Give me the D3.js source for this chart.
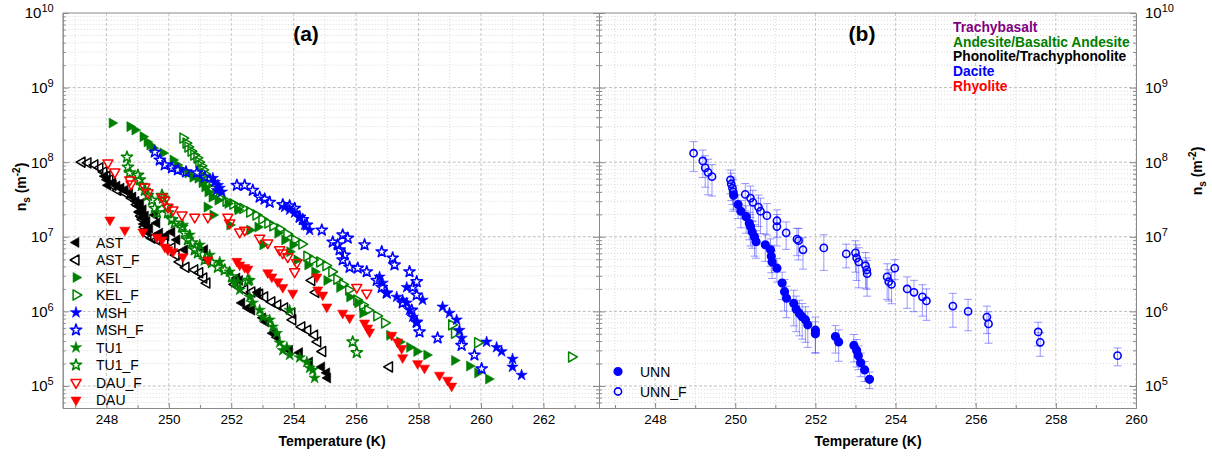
<!DOCTYPE html>
<html>
<head>
<meta charset="utf-8">
<script src="https://cdn.jsdelivr.net/npm/d3@7"></script>
<style>
    body { margin: 0; background: #fff; }
    text { font-family: "Liberation Sans", Arial, sans-serif; }
</style>
</head>
<body>
<svg id="chart" width="1212" height="459"></svg>
<script>
'use strict';

// Data: [temperature (K), ns (m^-2)]
const AST = [[247.95,6.5e7],[248.02,5.8e7],[248.05,4.9e7],[248.21,5.3e7],[248.34,4.8e7],[248.47,4.5e7],[248.59,4.2e7],[248.75,3.9e7],[248.85,3.4e7],[248.95,3.0e7],[249.01,2.6e7],[249.07,2.15e7],[249.14,1.8e7],[249.20,1.48e7],[249.27,1.23e7],[249.10,2.8e7],[249.18,2.3e7],[249.25,1.9e7],[249.30,1.6e7],[249.39,1.31e7],[249.55,1.96e7],[249.62,1.53e7],[249.71,1.12e7],[249.91,1.03e7],[250.10,1.16e7],[250.26,9.1e6],[250.51,6.7e6],[251.15,6.7e6],[251.25,4.9e6],[252.18,2.8e6],[252.27,2.6e6],[252.34,1.3e6],[252.53,1.11e6],[252.66,1.04e6],[252.85,1.8e6],[253.01,8.2e5],[253.11,7.2e5],[253.33,5.1e5],[253.46,4.5e5],[253.87,3.0e5],[254.19,2.8e5],[254.51,2.1e5],[254.90,1.8e5],[255.06,1.5e5],[255.09,1.28e5]];
const AST_F = [[247.22,1.0e8],[247.41,9.8e7],[247.63,9.2e7],[247.79,8.4e7],[247.92,7.4e7],[248.02,6.5e7],[248.11,5.8e7],[248.21,4.9e7],[248.37,4.2e7],[248.59,3.9e7],[248.82,3.3e7],[248.98,2.7e7],[249.07,2.15e7],[249.17,1.7e7],[249.23,1.35e7],[249.12,1.9e7],[249.28,1.2e7],[249.33,1.06e7],[249.46,9.6e6],[249.62,9.1e6],[249.87,8.3e6],[250.10,7.1e6],[250.23,5.7e6],[250.35,4.6e6],[250.55,3.9e6],[250.83,3.6e6],[250.99,3.3e6],[251.12,2.8e6],[251.22,2.4e6],[252.11,2.3e6],[252.43,1.94e6],[252.66,1.82e6],[252.91,1.7e6],[253.07,1.56e6],[253.30,1.34e6],[253.49,1.22e6],[253.71,1.11e6],[253.94,9.5e5],[253.97,7.7e5],[254.26,6.2e5],[254.45,5.6e5],[254.67,4.8e5],[254.77,3.9e5],[254.93,2.9e5],[254.58,2.6e6],[254.71,1.8e6],[257.07,1.8e5]];
const KEL = [[248.18,3.35e8],[248.75,3.0e8],[248.91,2.7e8],[249.17,2.2e8],[249.30,1.87e8],[249.39,1.7e8],[249.49,1.55e8],[249.81,1.33e8],[250.13,1.07e8],[250.26,9.2e7],[250.42,7.9e7],[250.61,7.2e7],[250.77,6.3e7],[250.93,6.1e7],[251.06,5.3e7],[251.15,4.65e7],[251.25,4.0e7],[251.38,3.4e7],[251.57,3.1e7],[251.89,2.8e7],[252.21,2.3e7],[251.22,2.5e7],[251.41,1.96e7],[251.95,1.44e7],[252.59,1.23e7],[252.85,1.35e7],[253.01,7.8e6],[253.49,1.12e7],[253.71,9.1e6],[253.87,6.3e6],[253.97,7.8e6],[254.10,4.9e6],[254.45,4.2e6],[254.67,3.4e6],[255.06,2.6e6],[255.47,2.1e6],[255.79,1.56e6],[256.05,1.3e6],[256.21,9.5e5],[257.07,4.8e5],[257.39,3.9e5],[257.71,3.3e5],[257.94,2.9e5],[258.26,2.6e5],[259.15,2.2e5],[259.63,1.85e5],[259.89,1.5e5],[260.24,1.24e5]];
const KEL_F = [[250.45,2.1e8],[250.55,1.8e8],[250.61,1.6e8],[250.71,1.41e8],[250.80,1.25e8],[250.90,1.14e8],[250.96,1.0e8],[251.03,8.9e7],[251.09,7.9e7],[251.15,6.9e7],[251.22,6.0e7],[251.28,5.1e7],[251.38,4.4e7],[251.51,3.7e7],[251.63,3.3e7],[251.83,3.0e7],[252.05,2.75e7],[252.21,2.5e7],[252.37,2.4e7],[252.59,2.15e7],[252.79,1.96e7],[252.98,1.73e7],[253.17,1.53e7],[253.33,1.4e7],[253.55,1.27e7],[253.78,1.09e7],[254.03,9.1e6],[254.26,8.0e6],[254.42,5.5e6],[254.61,4.9e6],[254.83,4.6e6],[255.03,4.1e6],[255.22,3.4e6],[255.38,2.7e6],[255.57,2.3e6],[255.76,1.94e6],[256.02,1.42e6],[256.21,1.22e6],[256.37,1.04e6],[256.66,8.7e5],[256.91,7.0e5],[259.06,6.6e5],[259.15,5.1e5],[259.89,3.8e5],[262.90,2.45e5]];
const MSH = [[251.41,6.1e7],[251.47,5.4e7],[251.57,4.9e7],[251.63,4.5e7],[251.54,4.2e7],[251.70,4.0e7],[253.71,2.5e7],[253.87,2.3e7],[254.03,2.1e7],[254.19,1.8e7],[254.35,1.44e7],[254.51,1.23e7],[256.75,2.9e6],[256.85,2.4e6],[256.98,1.76e6],[257.30,1.56e6],[257.49,1.42e6],[257.62,1.3e6],[257.71,1.04e6],[257.81,8.4e5],[257.94,7.0e5],[257.62,2.1e6],[258.13,1.42e6],[258.77,1.15e6],[258.99,9.5e5],[259.22,7.7e5],[259.31,5.6e5],[259.38,4.4e5],[260.18,3.9e5],[260.50,3.3e5],[260.66,2.9e5],[261.01,2.3e5],[261.01,1.8e5],[261.30,1.4e5]];
const MSH_F = [[249.55,1.37e8],[249.71,1.07e8],[249.87,9.2e7],[250.10,8.4e7],[250.29,7.9e7],[250.55,7.4e7],[250.90,7.2e7],[251.15,6.3e7],[252.18,4.9e7],[252.43,4.9e7],[252.69,4.2e7],[252.91,3.4e7],[253.07,3.2e7],[253.23,2.9e7],[253.65,2.7e7],[253.87,2.6e7],[254.03,2.4e7],[254.19,1.84e7],[254.29,1.7e7],[254.42,1.44e7],[254.90,1.23e7],[255.25,8.5e6],[255.41,7.8e6],[255.47,6.7e6],[255.57,1.06e7],[255.73,9.6e6],[255.63,5.7e6],[255.57,4.9e6],[255.79,3.9e6],[256.05,3.8e6],[256.27,7.8e6],[256.34,3.4e6],[256.82,6.3e6],[257.17,5.2e6],[257.23,4.2e6],[256.66,2.6e6],[256.82,2.1e6],[256.98,1.76e6],[257.49,1.3e6],[257.71,3.4e6],[257.94,2.5e6],[257.81,2.1e6],[257.94,1.66e6],[257.78,1.04e6],[257.94,7.2e5],[258.03,5.3e5],[258.61,4.4e5],[259.38,3.5e5],[259.79,2.6e5],[260.02,1.7e5]];
const TU1 = [[250.45,1.44e7],[250.67,1.06e7],[250.99,7.8e6],[251.31,5.7e6],[251.63,4.6e6],[251.95,3.4e6],[252.11,2.4e6],[252.27,1.94e6],[252.59,2.6e6],[252.59,1.56e6],[252.69,1.3e6],[252.91,1.04e6],[253.01,8.4e5],[253.23,7.7e5],[253.33,6.2e5],[253.46,5.1e5],[253.55,3.8e5],[253.65,3.0e5],[253.78,3.3e5],[253.87,2.6e5],[253.87,1.04e6],[254.19,2.4e5],[254.42,2.1e5],[254.61,1.64e5],[254.67,1.28e5],[254.51,1.74e5]];
const TU1_F = [[248.66,1.17e8],[248.69,8.6e7],[248.75,7.2e7],[249.01,6.7e7],[249.07,5.8e7],[249.14,4.9e7],[249.23,4.2e7],[249.33,3.6e7],[249.46,3.1e7],[249.55,2.4e7],[249.62,2.1e7],[249.78,3.6e7],[249.81,3.3e7],[249.94,2.5e7],[249.97,2.1e7],[250.10,1.7e7],[250.19,1.53e7],[250.42,1.35e7],[250.51,1.12e7],[250.61,9.1e6],[250.74,8.3e6],[250.83,6.7e6],[250.93,6.1e6],[251.15,4.9e6],[251.38,4.5e6],[251.57,3.9e6],[251.79,3.6e6],[252.02,2.9e6],[252.21,2.4e6],[252.53,2.6e6],[255.89,3.9e5],[256.02,2.8e5]];
const DAU_F = [[248.05,9.8e7],[248.27,7.4e7],[248.75,5.8e7],[248.79,5.1e7],[249.23,4.65e7],[249.33,3.9e7],[249.78,3.4e7],[249.87,3.1e7],[249.97,2.5e7],[250.13,2.3e7],[250.42,1.96e7],[250.83,1.84e7],[251.25,1.84e7],[251.89,1.84e7],[251.95,1.53e7],[252.27,1.16e7],[252.43,1.23e7],[252.91,9.6e6],[253.17,8.3e6],[253.55,6.7e6],[253.65,6.1e6],[253.81,5.4e6],[254.03,3.4e6],[254.10,4.5e6],[256.02,2.1e6],[256.34,1.76e6]];
const DAU = [[248.11,1.68e7],[248.59,1.23e7],[249.17,1.16e7],[249.62,9.9e6],[249.78,9.1e6],[249.87,7.3e6],[249.97,6.7e6],[250.13,6.3e6],[250.45,5.4e6],[251.25,4.9e6],[252.18,4.7e6],[252.27,4.2e6],[252.43,3.9e6],[252.53,3.7e6],[253.17,3.3e6],[253.30,2.9e6],[253.49,2.5e6],[253.65,2.1e6],[253.97,1.76e6],[254.74,2.9e6],[254.77,1.94e6],[254.93,1.66e6],[255.06,1.15e6],[255.57,9.5e5],[255.79,8.2e5],[256.27,7.0e5],[256.37,6.0e5],[256.43,5.3e5],[257.14,4.8e5],[257.33,3.9e5],[257.46,3.2e5],[257.49,2.4e5],[257.97,2.0e5],[258.19,1.74e5],[258.67,1.4e5],[258.93,1.2e5],[259.06,1.0e5]];

// Panel (b): [temperature (K), ns (m^-2), relative uncertainty]
const UNN = [[249.96,3.6e7,0.35],[250.07,2.7e7,0.35],[250.14,2.2e7,0.4],[250.27,1.86e7,0.4],[250.35,1.52e7,0.4],[250.38,1.37e7,0.45],[250.42,1.17e7,0.4],[250.48,1.0e7,0.45],[250.52,8.6e6,0.4],[250.75,7.8e6,0.4],[250.88,6.7e6,0.4],[250.90,5.5e6,0.4],[250.92,4.6e6,0.4],[251.04,3.8e6,0.35],[251.17,2.4e6,0.4],[251.23,1.84e6,0.45],[251.28,1.5e6,0.45],[251.46,1.28e6,0.5],[251.52,1.07e6,0.5],[251.60,9.4e5,0.5],[251.67,8.5e5,0.5],[251.75,7.7e5,0.5],[251.81,6.6e5,0.5],[252.00,5.6e5,0.5],[252.00,5.0e5,0.45],[252.50,4.6e5,0.4],[252.58,3.9e5,0.45],[252.96,3.5e5,0.4],[253.03,3.0e5,0.4],[253.07,2.55e5,0.35],[253.13,2.05e5,0.35],[253.23,1.64e5,0.3],[253.35,1.23e5,0.25]];
const UNN_F = [[248.96,1.32e8,0.43],[249.19,1.04e8,0.4],[249.25,8.4e7,0.45],[249.32,7.3e7,0.5],[249.42,6.4e7,0.45],[249.88,5.8e7,0.35],[249.90,5.1e7,0.4],[249.93,4.5e7,0.4],[249.95,4.0e7,0.45],[250.25,3.7e7,0.4],[250.38,3.3e7,0.45],[250.44,2.9e7,0.45],[250.58,2.5e7,0.45],[250.63,2.2e7,0.5],[250.79,1.92e7,0.45],[251.04,1.64e7,0.4],[251.04,1.37e7,0.45],[251.27,1.13e7,0.4],[251.54,9.3e6,0.4],[251.58,8.9e6,0.45],[251.69,6.7e6,0.45],[252.21,7.1e6,0.5],[252.77,5.9e6,0.35],[253.00,6.1e6,0.45],[253.03,5.2e6,0.5],[253.08,4.6e6,0.55],[253.25,4.1e6,0.5],[253.28,3.6e6,0.45],[253.29,3.2e6,0.5],[253.79,2.9e6,0.5],[253.83,2.5e6,0.45],[253.90,2.3e6,0.45],[253.98,3.8e6,0.3],[254.29,2.0e6,0.45],[254.46,1.8e6,0.45],[254.67,1.57e6,0.45],[254.77,1.38e6,0.45],[255.43,1.18e6,0.48],[255.81,1.0e6,0.45],[256.28,8.4e5,0.4],[256.32,6.8e5,0.45],[257.56,5.3e5,0.35],[257.61,3.85e5,0.35],[259.54,2.55e5,0.27]];

// Ticks and labels
const decadeTicks = [1e5, 1e6, 1e7, 1e8, 1e9, 1e10];
const xTicksA = [248, 250, 252, 254, 256, 258, 260, 262];
const xMinorA = [247, 249, 251, 253, 255, 257, 259, 261, 263];
const xTicksB = [248, 250, 252, 254, 256, 258, 260];
const xMinorB = [247, 249, 251, 253, 255, 257, 259];
const rockTypes = ['Trachybasalt', 'Andesite/Basaltic Andesite', 'Phonolite/Trachyphonolite', 'Dacite', 'Rhyolite'];
const rockColors = ['#800080', '#008000', '#000000', '#0000ff', '#ff0000'];

// Series styles (legend order)
const seriesA = [
    {name: 'AST', data: AST, color: '#000', shape: 'left', filled: true},
    {name: 'AST_F', data: AST_F, color: '#000', shape: 'left', filled: false},
    {name: 'KEL', data: KEL, color: '#008000', shape: 'right', filled: true},
    {name: 'KEL_F', data: KEL_F, color: '#008000', shape: 'right', filled: false},
    {name: 'MSH', data: MSH, color: '#0000ff', shape: 'star', filled: true},
    {name: 'MSH_F', data: MSH_F, color: '#0000ff', shape: 'star', filled: false},
    {name: 'TU1', data: TU1, color: '#008000', shape: 'star', filled: true},
    {name: 'TU1_F', data: TU1_F, color: '#008000', shape: 'star', filled: false},
    {name: 'DAU_F', data: DAU_F, color: '#ff0000', shape: 'down', filled: false},
    {name: 'DAU', data: DAU, color: '#ff0000', shape: 'down', filled: true}
];
const seriesB = [
    {name: 'UNN', data: UNN, filled: true},
    {name: 'UNN_F', data: UNN_F, filled: false}
];

// Config
const plotTop = 13, plotBottom = 408, plotMid = 599;
const axisColor = '#8a8a8a';
const svg = d3.select('#chart');

const y = d3.scaleLog().domain([5.07e4, 1e10]).range([plotBottom, plotTop]);
const xA = d3.scaleLinear().domain([246.6, 263.78]).range([62.7, plotMid]);
const xB = d3.scaleLinear().domain([246.6, 260]).range([plotMid, 1136]);
const isDecade = v => Math.abs(Math.log10(v) - Math.round(Math.log10(v))) < 1e-9;
const yMinor = y.ticks().filter(v => !isDecade(v));

const symbols = {
    left: {type: d3.symbolTriangle, rot: -90, size: 44},
    right: {type: d3.symbolTriangle, rot: 90, size: 44},
    down: {type: d3.symbolTriangle, rot: 180, size: 44},
    star: {type: d3.symbolStar, rot: 0, size: 40}
};

/*
Grid
 */
function drawGrid(x, majors, minors) {
    const g = svg.append('g');
    const [x0, x1] = x.range();
    g.selectAll('.gyMinor').data(yMinor).join('line')
        .attr('x1', x0).attr('x2', x1)
        .attr('y1', d => y(d)).attr('y2', d => y(d))
        .attr('stroke', '#d9d9d9').attr('stroke-dasharray', '1,2');
    g.selectAll('.gxMinor').data(minors).join('line')
        .attr('x1', d => x(d)).attr('x2', d => x(d))
        .attr('y1', plotTop).attr('y2', plotBottom)
        .attr('stroke', '#d9d9d9').attr('stroke-dasharray', '1,2');
    g.selectAll('.gyMajor').data(decadeTicks.slice(0, -1)).join('line')
        .attr('x1', x0).attr('x2', x1)
        .attr('y1', d => y(d)).attr('y2', d => y(d))
        .attr('stroke', '#bdbdbd').attr('stroke-dasharray', '3,2');
    g.selectAll('.gxMajor').data(majors).join('line')
        .attr('x1', d => x(d)).attr('x2', d => x(d))
        .attr('y1', plotTop).attr('y2', plotBottom)
        .attr('stroke', '#c8c8c8').attr('stroke-dasharray', '3,2');
}
drawGrid(xA, xTicksA, xMinorA);
drawGrid(xB, xTicksB, xMinorB);

/*
Axes
 */
function styleAxis(g) {
    g.selectAll('path, line').attr('stroke', axisColor);
    g.selectAll('text').attr('fill', '#000').attr('font-family', '"Liberation Sans", Arial, sans-serif');
}
function powerLabels(g) {
    g.selectAll('.tick text').each(function(d) {
        const t = d3.select(this).text('').attr('font-size', 15);
        t.append('tspan').text('10');
        t.append('tspan').attr('dy', '-0.55em').attr('font-size', 11).text(Math.round(Math.log10(d)));
    });
}
function addXAxis(x, majors, minors) {
    svg.append('g').attr('transform', `translate(0,${plotBottom})`)
        .call(d3.axisBottom(x).tickValues(minors).tickSize(-3).tickSizeOuter(0).tickFormat(''))
        .call(styleAxis);
    svg.append('g').attr('transform', `translate(0,${plotBottom})`)
        .call(d3.axisBottom(x).tickValues(majors).tickSize(-5).tickSizeOuter(0).tickPadding(6).tickFormat(d3.format('d')))
        .call(styleAxis)
        .call(g => g.selectAll('text').attr('font-size', 13.5));
}
addXAxis(xA, xTicksA, xMinorA);
addXAxis(xB, xTicksB, xMinorB);

function addYAxis(axisFn, xPos, labels) {
    svg.append('g').attr('transform', `translate(${xPos},0)`)
        .call(axisFn(y).tickValues(yMinor).tickSize(-3).tickSizeOuter(0).tickFormat(''))
        .call(styleAxis);
    const g = svg.append('g').attr('transform', `translate(${xPos},0)`)
        .call(axisFn(y).tickValues(decadeTicks).tickSize(-6).tickSizeOuter(0).tickPadding(labels ? 9 : 0))
        .call(styleAxis);
    if (labels) g.call(powerLabels); else g.selectAll('.tick text').remove();
}
addYAxis(d3.axisLeft, 62.7, true);
addYAxis(d3.axisRight, plotMid, false);
addYAxis(d3.axisLeft, plotMid, false);
addYAxis(d3.axisRight, 1136, true);
svg.append('line').attr('x1', 62.7).attr('x2', 1136).attr('y1', plotTop).attr('y2', plotTop).attr('stroke', axisColor);

/*
Panel (a) markers
 */
function markerPath(shape) {
    return d3.symbol().type(symbols[shape].type).size(symbols[shape].size)();
}
function drawMarker(g, s, cx, cy) {
    g.append('path')
        .attr('d', markerPath(s.shape))
        .attr('transform', `translate(${cx},${cy}) rotate(${symbols[s.shape].rot})`)
        .attr('fill', s.filled ? s.color : 'none')
        .attr('stroke', s.color)
        .attr('stroke-width', s.filled ? 0.6 : 1.5)
        .attr('stroke-linejoin', 'round');
}
seriesA.forEach(s => {
    const g = svg.append('g').attr('class', s.name);
    g.selectAll('path').data(s.data).join('path')
        .attr('d', markerPath(s.shape))
        .attr('transform', d => `translate(${xA(d[0])},${y(d[1])}) rotate(${symbols[s.shape].rot})`)
        .attr('fill', s.filled ? s.color : 'none')
        .attr('stroke', s.color)
        .attr('stroke-width', s.filled ? 0.6 : 1.5)
        .attr('stroke-linejoin', 'round');
});

// Legend (a)
const legA = svg.append('g');
seriesA.forEach((s, i) => {
    const ly = 242.5 + i * 17.5;
    drawMarker(legA, s, 76, ly);
    legA.append('text').attr('x', 96).attr('y', ly).attr('dy', '0.36em')
        .attr('font-size', 14).text(s.name);
});

/*
Panel (b) markers with error bars
 */
seriesB.forEach(s => {
    const g = svg.append('g').attr('class', s.name);
    const err = g.selectAll('.err').data(s.data).join('g').attr('class', 'err')
        .attr('stroke', 'rgba(70,70,255,0.55)').attr('stroke-width', 1);
    err.append('line')
        .attr('x1', d => xB(d[0])).attr('x2', d => xB(d[0]))
        .attr('y1', d => y(d[1] * (1 + d[2]))).attr('y2', d => y(d[1] * (1 - d[2])));
    err.append('line')
        .attr('x1', d => xB(d[0]) - 4).attr('x2', d => xB(d[0]) + 4)
        .attr('y1', d => y(d[1] * (1 + d[2]))).attr('y2', d => y(d[1] * (1 + d[2])));
    err.append('line')
        .attr('x1', d => xB(d[0]) - 4).attr('x2', d => xB(d[0]) + 4)
        .attr('y1', d => y(d[1] * (1 - d[2]))).attr('y2', d => y(d[1] * (1 - d[2])));
});
seriesB.forEach(s => {
    svg.append('g').selectAll('circle').data(s.data).join('circle')
        .attr('cx', d => xB(d[0])).attr('cy', d => y(d[1]))
        .attr('r', s.filled ? 3.8 : 3.6)
        .attr('fill', s.filled ? '#0000ff' : 'none')
        .attr('stroke', '#0000ff').attr('stroke-width', 1.6);
});

// Legend (b)
seriesB.forEach((s, i) => {
    const ly = 371.5 + i * 20;
    svg.append('circle').attr('cx', 618).attr('cy', ly).attr('r', s.filled ? 3.8 : 3.6)
        .attr('fill', s.filled ? '#0000ff' : 'none').attr('stroke', '#0000ff').attr('stroke-width', 1.6);
    svg.append('text').attr('x', 640).attr('y', ly).attr('dy', '0.36em')
        .attr('font-size', 14).text(s.name);
});

// Rock type legend
rockTypes.forEach((r, i) => {
    svg.append('text').attr('x', 953).attr('y', 32 + i * 14.7)
        .attr('font-size', 13.8).attr('font-weight', 'bold')
        .attr('fill', rockColors[i]).text(r);
});

/*
Titles and axis labels
 */
svg.append('text').attr('x', 306).attr('y', 41).attr('text-anchor', 'middle')
    .attr('font-size', 21).attr('font-weight', 'bold').text('(a)');
svg.append('text').attr('x', 862).attr('y', 41).attr('text-anchor', 'middle')
    .attr('font-size', 21).attr('font-weight', 'bold').text('(b)');

[332, 868].forEach(cx => {
    svg.append('text').attr('x', cx).attr('y', 446).attr('text-anchor', 'middle')
        .attr('font-size', 14).attr('font-weight', 'bold').text('Temperature (K)');
});

function yLabel(tx, ty) {
    const t = svg.append('text').attr('transform', `translate(${tx},${ty}) rotate(-90)`)
        .attr('text-anchor', 'middle').attr('font-size', 14).attr('font-weight', 'bold');
    t.append('tspan').text('n');
    t.append('tspan').attr('dy', 4).attr('font-size', 10).text('s');
    t.append('tspan').attr('dy', -4).text(' (m');
    t.append('tspan').attr('dy', -6).attr('font-size', 10).text('-2');
    t.append('tspan').attr('dy', 6).text(')');
}
yLabel(26, 187);
yLabel(1202, 171);
</script>
</body>
</html>
